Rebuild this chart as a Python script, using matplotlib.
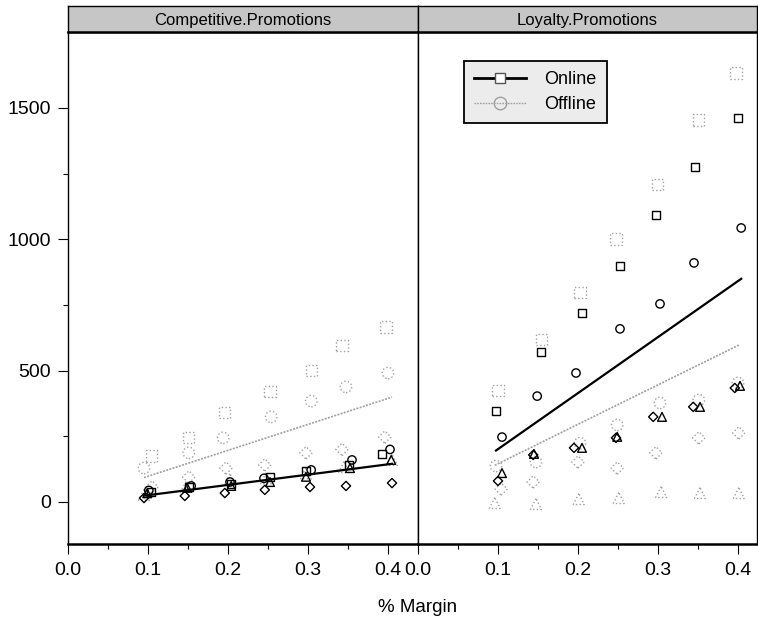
import numpy as np
import matplotlib
matplotlib.use("Agg")
import matplotlib.pyplot as plt
from matplotlib.lines import Line2D
from matplotlib.ticker import FixedLocator
from matplotlib import font_manager

names = {f.name for f in font_manager.fontManager.ttflist}
narrow = "Liberation Sans Narrow" if "Liberation Sans Narrow" in names else "Liberation Sans"
plt.rcParams['font.family'] = [narrow, 'Liberation Sans', 'DejaVu Sans']
FS = 15.5 if narrow.endswith("Narrow") else 14

# ---- data ----
panels = ["Competitive.Promotions", "Loyalty.Promotions"]

# Competitive.Promotions, Online (black)
comp_on_sq_x = [0.104, 0.151, 0.204, 0.2525, 0.2975, 0.351, 0.3925]
comp_on_sq_y = [39, 57, 68, 96, 118, 141, 183]
comp_on_ci_x = [0.101, 0.154, 0.2025, 0.245, 0.304, 0.355, 0.4025]
comp_on_ci_y = [44, 61, 76, 90, 122, 160, 200]
comp_on_tr_x = [0.099, 0.149, 0.204, 0.2525, 0.2975, 0.3525, 0.404]
comp_on_tr_y = [33, 54, 61, 76, 96, 129, 160]
comp_on_di_x = [0.095, 0.146, 0.196, 0.246, 0.3025, 0.3475, 0.405]
comp_on_di_y = [15, 23, 34, 46, 57, 61, 72]
# Competitive.Promotions, Offline (gray)
comp_off_sq_x = [0.104, 0.151, 0.196, 0.2525, 0.304, 0.3425, 0.3975]
comp_off_sq_y = [175, 247, 339, 419, 499, 594, 666]
comp_off_ci_x = [0.095, 0.151, 0.194, 0.254, 0.304, 0.3475, 0.40]
comp_off_ci_y = [129, 187, 244, 324, 384, 438, 491]
comp_off_tr_x = [0.095, 0.1475, 0.2025, 0.2475, 0.2975, 0.345, 0.405]
comp_off_tr_y = [27, 57, 86, 90, 109, 133, 160]
comp_off_di_x = [0.105, 0.151, 0.1975, 0.246, 0.2975, 0.3425, 0.396]
comp_off_di_y = [57, 95, 129, 141, 187, 200, 247]

# Loyalty.Promotions, Online (black)
loy_on_sq_x = [0.0975, 0.154, 0.205, 0.2525, 0.2975, 0.346, 0.40]
loy_on_sq_y = [346, 571, 719, 898, 1092, 1275, 1462]
loy_on_ci_x = [0.105, 0.149, 0.1975, 0.2525, 0.3025, 0.345, 0.404]
loy_on_ci_y = [247, 403, 491, 659, 754, 910, 1043]
loy_on_tr_x = [0.105, 0.145, 0.205, 0.249, 0.305, 0.3525, 0.4025]
loy_on_tr_y = [110, 183, 206, 248, 324, 362, 442]
loy_on_di_x = [0.10, 0.144, 0.195, 0.2475, 0.294, 0.344, 0.396]
loy_on_di_y = [80, 179, 206, 244, 324, 362, 434]
# Loyalty.Promotions, Offline (gray)
loy_off_sq_x = [0.10, 0.154, 0.2025, 0.2475, 0.299, 0.351, 0.3975]
loy_off_sq_y = [426, 617, 796, 1001, 1210, 1454, 1633]
loy_off_ci_x = [0.0975, 0.1475, 0.2025, 0.249, 0.3025, 0.351, 0.40]
loy_off_ci_y = [137, 152, 224, 293, 377, 388, 453]
loy_off_tr_x = [0.096, 0.1475, 0.201, 0.251, 0.304, 0.3525, 0.401]
loy_off_tr_y = [-4, -8, 11, 15, 38, 34, 34]
loy_off_di_x = [0.104, 0.144, 0.20, 0.249, 0.2975, 0.351, 0.401]
loy_off_di_y = [49, 76, 152, 129, 187, 244, 263]

data = {
    "Competitive.Promotions": {
        "Online": [(comp_on_sq_x, comp_on_sq_y, "s"), (comp_on_ci_x, comp_on_ci_y, "o"),
                   (comp_on_tr_x, comp_on_tr_y, "^"), (comp_on_di_x, comp_on_di_y, "D")],
        "Offline": [(comp_off_sq_x, comp_off_sq_y, "s"), (comp_off_ci_x, comp_off_ci_y, "o"),
                    (comp_off_tr_x, comp_off_tr_y, "^"), (comp_off_di_x, comp_off_di_y, "D")],
    },
    "Loyalty.Promotions": {
        "Online": [(loy_on_sq_x, loy_on_sq_y, "s"), (loy_on_ci_x, loy_on_ci_y, "o"),
                   (loy_on_tr_x, loy_on_tr_y, "^"), (loy_on_di_x, loy_on_di_y, "D")],
        "Offline": [(loy_off_sq_x, loy_off_sq_y, "s"), (loy_off_ci_x, loy_off_ci_y, "o"),
                    (loy_off_tr_x, loy_off_tr_y, "^"), (loy_off_di_x, loy_off_di_y, "D")],
    },
}

GRAY = "#a0a0a0"
style = {
    "Online": dict(color="black", ls="-", lw=1.6, mls="solid", size={"s": 34, "o": 36, "^": 40, "D": 22}),
    "Offline": dict(color=GRAY, ls=(0, (1.2, 0.8)), lw=1.2, mls="dotted", size={"s": 64, "o": 68, "^": 62, "D": 40}),
}

W, H = 758, 620
fig = plt.figure(figsize=(W / 100, H / 100), dpi=100)

panel_top, panel_bot = 32, 544
strip_top = 6
lefts = [68, 418]
rights = [418, 757]
ymin, ymax = -160, 1789

axes = []
for i, name in enumerate(panels):
    l, r = lefts[i], rights[i]
    ax = fig.add_axes([l / W, (H - panel_bot) / H, (r - l) / W, (panel_bot - panel_top) / H])
    ax.set_xlim(0, (r - l) / 800)
    ax.set_ylim(ymin, ymax)
    for sp in ax.spines.values():
        sp.set_linewidth(1.0)
    ax.spines["bottom"].set_linewidth(1.8)

    ax.set_xticks([0.0, 0.1, 0.2, 0.3, 0.4])
    ax.set_xticklabels(["0.0", "0.1", "0.2", "0.3", "0.4"])
    ax.xaxis.set_minor_locator(FixedLocator([0.05, 0.15, 0.25, 0.35]))
    ax.tick_params(axis="x", which="major", direction="out", length=7, width=0.8,
                   labelsize=FS, pad=6, top=False)
    ax.tick_params(axis="x", which="minor", direction="out", length=3.5, width=0.8, top=False)
    if i == 0:
        ax.set_yticks([0, 500, 1000, 1500])
        ax.yaxis.set_minor_locator(FixedLocator([250, 750, 1250]))
        ax.tick_params(axis="y", which="major", direction="out", length=7, width=0.8,
                       labelsize=FS, pad=5, right=False)
        ax.tick_params(axis="y", which="minor", direction="out", length=3.5, width=0.8, right=False)
    else:
        ax.tick_params(axis="y", which="both", left=False, right=False, labelleft=False)

    for grp in ["Offline", "Online"]:
        st = style[grp]
        allx, ally = [], []
        for xs, ys, m in data[name][grp]:
            ax.scatter(xs, ys, marker=m, s=st["size"][m], facecolors="none",
                       edgecolors=st["color"], linewidths=1.0, linestyles=st["mls"], zorder=3)
            allx += xs
            ally += ys
        allx = np.array(allx)
        ally = np.array(ally)
        k, b = np.polyfit(allx, ally, 1)
        xx = np.array([allx.min(), allx.max()])
        ax.plot(xx, k * xx + b, color=st["color"], ls=st["ls"], lw=st["lw"], zorder=4)

    # strip
    sax = fig.add_axes([l / W, (H - panel_top) / H, (r - l) / W, (panel_top - strip_top) / H])
    sax.set_facecolor("#c6c6c6")
    sax.set_xticks([])
    sax.set_yticks([])
    for sp in sax.spines.values():
        sp.set_linewidth(1.0)
    sax.spines["bottom"].set_linewidth(1.8)
    sax.text(0.5, 0.45, name, ha="center", va="center", fontsize=FS - 2, transform=sax.transAxes)
    axes.append(ax)

fig.text(418 / W, 1 - 607 / H, "% Margin", ha="center", va="center", fontsize=FS - 0.5)

handles = [
    Line2D([], [], color="black", lw=2.0, marker="s", markersize=6.5,
           markerfacecolor="white", markeredgecolor="#555555", markeredgewidth=1.0),
    Line2D([], [], color=GRAY, lw=1.0, ls=(0, (1.2, 0.8)), marker="o", markersize=9,
           markerfacecolor="none", markeredgecolor=GRAY, markeredgewidth=1.0),
]
leg = axes[1].legend(handles, ["Online", "Offline"], loc="upper left",
                     bbox_to_anchor=(0.136, 0.943), borderaxespad=0, fontsize=FS - 1,
                     handlelength=2.9, handletextpad=1.0, borderpad=0.55, labelspacing=0.45,
                     fancybox=False, framealpha=1, edgecolor="black")
leg.get_frame().set_facecolor("#ececec")
leg.get_frame().set_linewidth(1.3)

fig.savefig("out.png", dpi=100)
